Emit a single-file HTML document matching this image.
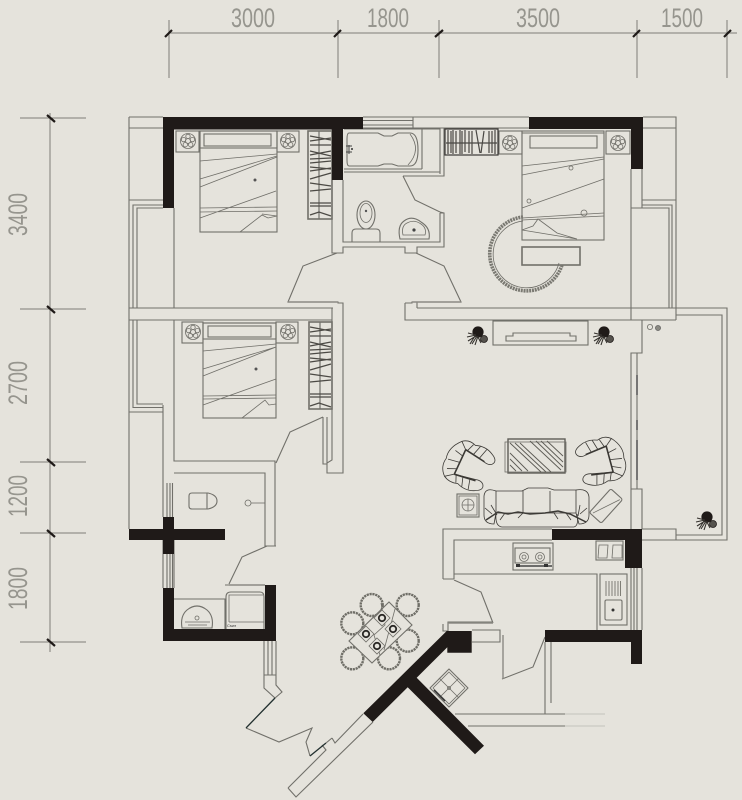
<!DOCTYPE html>
<html><head><meta charset="utf-8"><style>
html,body{margin:0;padding:0;background:#e5e3dc}
svg{display:block}
text{font-family:"Liberation Sans",sans-serif;fill:#96958e}
.l{fill:none;stroke:#71706a;stroke-width:1.1}
.t{fill:none;stroke:#6f6e68;stroke-width:.8}
.g{fill:none;stroke:#8b8a83;stroke-width:1.4}
.k{fill:#1f1a18;stroke:none}
.d{fill:none;stroke:#3c3a36;stroke-width:.8}
</style></head><body>
<svg width="742" height="800" viewBox="0 0 742 800" xmlns="http://www.w3.org/2000/svg">
<defs>
<g id="fl" class="t"><circle r="7.5"/><circle r="2.4"/><circle cx="0" cy="-4.6" r="2.2"/><circle cx="4.4" cy="-1.4" r="2.2"/><circle cx="2.7" cy="3.7" r="2.2"/><circle cx="-2.7" cy="3.7" r="2.2"/><circle cx="-4.4" cy="-1.4" r="2.2"/></g>
<g id="pl"><circle r="5.6" fill="#1f1a18"/><circle cx="6" cy="7" r="3.5" fill="#55524d" stroke="#1f1a18" stroke-width=".8"/><path d="M-2 3 L-10 1 M-2 3 L-11 5 M-2 4 L-10 9 M-1 4 L-6 12 M0 4 L-3 13 M-3 4 L-8 12 M0 5 L3 11" stroke="#33302c" stroke-width="1.1" fill="none"/></g>
<g id="wr"><path d="M1 5 L22 9 M1 10 L22 7 M1 14 L22 14 M1 20 L22 25 M1 24 L22 20 M1 28 L22 27 M1 32 L22 30 M1 36 L22 38 M1 40 L22 37 M1 48 L22 42 M1 52 L22 55 M1 60 L22 58 M1 72 L22 72 M1 75 L22 75 M1 84 L10 81 L22 85" stroke="#4c4a45" stroke-width="1.3" fill="none"/></g>
<g id="ch" class="d">
<path d="M-20 -19Q-30 -8 -27 3Q-29 13 -21 20L-13 14L-13 -13Z"/>
<path d="M-20 -19Q-14 -24 -6 -21Q4 -25 13 -20Q21 -16 17 -11Q14 -8 8 -10L-13 -13"/>
<path d="M-21 20Q-14 24 -6 21Q4 25 13 20Q21 16 17 11Q14 8 8 10L-13 14"/>
<path d="M-13 -13L-13 14M-13 -13L9 -10M-13 14L9 11" stroke-width="1.6" stroke="#3a3834"/>
<path d="M-8 -21L-11 -13M-1 -22L-4 -12M6 -22L3 -11M-8 21L-11 14M-1 22L-4 13M6 22L3 11M-22 -8L-13 -6M-25 3L-13 1M-22 12L-13 8"/>
</g>
<g id="hs" stroke="#5d5b55" stroke-width=".9"><path d="M510 443 L541 472 M515 443 L546 472 M520 443 L551 472 M510 453 L528 471 M510 459 L522 471 M510 465 L516 471 M530 441 L561 470 M536 441 L563 467 M541 441 L563 462 M547 441 L563 456"/></g>
</defs>
<rect width="742" height="800" fill="#e5e3dc"/>

<!-- dimensions -->
<g stroke="#7f7e77" stroke-width="1" fill="none">
<path d="M168 33H737M169 20V78M338 20V78M439 20V78M637 20V78M727 20V78"/>
<path d="M50 113V652M20 118H86M20 309H86M20 462H86M20 533H86M20 642H86"/>
</g>
<g stroke="#1f1a18" stroke-width="2.2">
<path d="M165 37L172 30M334 37L341 30M435 37L443 30M633 37L640 30M724 37L731 30"/>
<path d="M47 115L55 122M47 306L55 313M47 459L55 466M47 530L55 537M47 639L55 646"/>
</g>
<g font-size="27">
<text x="231" y="27" textLength="44" lengthAdjust="spacingAndGlyphs">3000</text>
<text x="367" y="27" textLength="42" lengthAdjust="spacingAndGlyphs">1800</text>
<text x="516" y="27" textLength="44" lengthAdjust="spacingAndGlyphs">3500</text>
<text x="661" y="27" textLength="42" lengthAdjust="spacingAndGlyphs">1500</text>
<text transform="translate(27,236) rotate(-90)" textLength="43" lengthAdjust="spacingAndGlyphs">3400</text>
<text transform="translate(27,405) rotate(-90)" textLength="44" lengthAdjust="spacingAndGlyphs">2700</text>
<text transform="translate(27,517) rotate(-90)" textLength="42" lengthAdjust="spacingAndGlyphs">1200</text>
<text transform="translate(27,610) rotate(-90)" textLength="43" lengthAdjust="spacingAndGlyphs">1800</text>
</g>

<!-- thin walls -->
<g class="l">
<path d="M129 117V529M129 117H163M129 128H163M129 200H174M133 308V205H163M137 308V208H163M174 208V308M129 308H333M129 320H332M133 320V407.5H163M137 320V404H163M129 412H163"/>
<path d="M174 320V461H275V546H265V473H174M163 405V517M163 540V588M174 540V588M167 483V517M170 483V517M172.5 483V517M167 554V588M170 554V588M172.5 554V588"/>
<path d="M332 129V253H343V247H405V253H417V247H444V213H440M343 180V242H440V213M332 308V460L327 463V473H343V303H338V302H288L303 266L337 253"/>
<path d="M323 417V464H327M327 417V463M323 417L290 432L276 463"/>
<path d="M363 117H529M363 120.5H413M363 125H413M363 128H529M413 117V129M422 129V169M344 129H440V174M444 128V176H403M344 169H422M344 172H440M403 176L415 200L440 212L444 213"/>
<path d="M631 169V320H642V353H631V529M642 169V208H631M643 117H676V320M643 128H676M642 200H676M642 205H672V308M642 208H669V308M405 303V320H631M405 303H412V302H461L444 266L416 253M417 308H727V540H642M676 315H722V535H676V540M676 320V315M642 320H676M637 353V489M631 489H642V529M642 529H676V535"/>
<path d="M417 302V308"/>
<path d="M265 546H276M267 546L242 557L229 584"/>
<path d="M174 599H225V629M225 585H229"/>
<path d="M264 641V688L275 698L282 692L276 685V641M268 641V675M272 641V675M264 675H276"/>
<path d="M246 728L279 742L312 728L306 742L310 756"/>
<path d="M288 788L326 750L322 745M288 788L296 797L373 722M332 738L335 743L363 714M326 743L332 738"/>
<path d="M443 579V529H552M454 579V540H552M443 579H454M454 580L481 592L493 623M454 574H597V630M443 624V631H448V622H493M448 622V631"/>
<path d="M631 568V630M634 568V630M637 568V630M642 568V630"/>
<path d="M472 630H500V642H472M545 637L533 667L502 679M545 642V714M551 642V703M455 714H565M468 726H565"/>
</g>
<path d="M565 714H605M565 726H605" stroke="#c4c3bc" stroke-width="1" fill="none"/>
<path class="g" d="M229 585H265M503 635V679M448 623H493M412 302H461M288 302H338"/>

<!-- bed 1 -->
<g class="l">
<rect x="200" y="131" width="77" height="101"/><rect x="200" y="131" width="77" height="17"/><rect x="204" y="134" width="67" height="12"/>
<rect x="176" y="131" width="23" height="21"/><rect x="277" y="131" width="22" height="21"/>
<rect x="308" y="131" width="24" height="88" stroke-width="1.6"/><path d="M319 131V219" stroke-width="1.2"/>
</g>
<use href="#fl" x="188" y="141"/><use href="#fl" x="288" y="141"/><use href="#wr" x="309" y="131"/>
<path class="t" d="M200 161L277 154M200 179L277 156M200 187L277 157M200 218L276 191M200 208L277 207M200 212L277 211M240 232L262 215L268 218L277 216L262 214"/>
<circle cx="255" cy="180" r="1.5" fill="#555"/>

<!-- bed 3 -->
<g class="l">
<rect x="203" y="323" width="73" height="95"/><rect x="203" y="323" width="73" height="16"/><rect x="208" y="326" width="63" height="11"/>
<rect x="182" y="322" width="21" height="21"/><rect x="276" y="322" width="22" height="21"/>
<rect x="309" y="322" width="23" height="87" stroke-width="1.6"/><path d="M320 322V409" stroke-width="1.2"/>
</g>
<use href="#fl" x="193" y="332"/><use href="#fl" x="288" y="332"/><use href="#wr" x="309" y="322"/>
<path class="t" d="M203 351L276 344M203 369L276 347M203 376L276 347M203 405L276 379M203 396L276 395M203 399L276 398M242 418L265 400L269 405L276 404"/>
<circle cx="256" cy="369" r="1.5" fill="#555"/>

<!-- master bed -->
<g class="l">
<rect x="522" y="131" width="82" height="109"/><rect x="530" y="136" width="67" height="12"/><path d="M522 133H604"/>
<rect x="499" y="131" width="23" height="23"/><rect x="606" y="131" width="24" height="23"/>
<rect x="522" y="247" width="58" height="18" stroke-width="1.6"/>
</g>
<rect x="445" y="129" width="53" height="26" fill="none" stroke="#3a3835" stroke-width="1.2"/>
<path d="M448 130V154M451 131V153M453 130V154M456 131V153M460 130V154M462 131V154M465 130V152M469 131V153M472 131V154M476 130L480 153M481 153L484 131M489 131V153M492 131V153M495 130V154M446 143H497" stroke="#4a4844" stroke-width="1.2" fill="none"/>
<use href="#fl" x="510" y="143"/><use href="#fl" x="618" y="143"/>
<path class="t" d="M522 166L604 157M522 175L604 159M522 208L604 179M522 218L604 213M522 220L604 216M522 230L577 239M522 230L533 226L538 219L557 233L577 239"/>
<circle cx="571" cy="168" r="2" class="t"/><circle cx="529" cy="201" r="2" class="t"/><circle cx="584" cy="213" r="3" class="t"/>
<path d="M523 217A37 37 0 1 0 562 265" fill="none" stroke="#7a7972" stroke-width="3.6" stroke-dasharray="2 .8"/>
<path d="M523 221A33.5 33.5 0 1 0 559 263" class="t"/>

<!-- bathroom fixtures -->
<path class="l" d="M349 133H378L384 136L392 136L398 133H410Q418 133 418 150Q418 166 410 166H398L392 164L384 164L378 166H349Q347 166 347 160V139Q347 133 349 133Z"/>
<path class="t" d="M410 134Q422 150 408 165"/>
<circle cx="352" cy="149" r="1" fill="#333"/><path d="M346 146H352M346 152H352M349 145V154" stroke="#444" fill="none"/>
<g class="l"><path d="M352 242V233Q352 229 356 229H376Q380 229 380 233V242"/><ellipse cx="366" cy="215" rx="9" ry="14"/><ellipse cx="366" cy="213" rx="6" ry="9.5" class="t"/></g>
<circle cx="366" cy="211" r="1.2" fill="#555"/>
<path class="l" d="M400 239Q397 226 404 221Q412 215 421 222Q431 228 429 239Z"/><path class="t" d="M403 235Q401 226 407 223Q414 219 421 224Q427 228 425 235Z"/><circle cx="414" cy="230" r="1.6" fill="#444"/>

<!-- bathroom 2 -->
<path class="l" d="M192 493H208Q217 495 217 501Q217 507 208 509H192Q189 509 189 506V496Q189 493 192 493ZM207 493V509"/>
<circle cx="248" cy="503" r="3" class="t"/><path class="t" d="M251 503H265"/>
<path class="l" d="M182 628Q180 616 187 610Q197 602 207 610Q214 616 212 628Z"/><path class="t" d="M185 622H210M188 625H207"/><circle cx="197" cy="618" r="2" class="t"/>
<path class="l" d="M226 629V597Q226 592 231 592H260Q264 592 264 597V629"/><path class="t" d="M229 622V595H263M229 622H264"/>
<text x="227" y="627" font-size="4" style="fill:#333">Cswr</text>

<!-- living -->
<use href="#pl" x="478" y="332"/><use href="#pl" x="604" y="332"/><use href="#pl" x="707" y="517"/>
<g class="l"><rect x="493" y="321" width="95" height="24"/><path d="M506 341H576V336H570V333H513V336H506Z"/></g>
<circle cx="650" cy="327" r="2.6" class="t"/><circle cx="658" cy="328" r="2.6" fill="#8a8982" stroke="#555" stroke-width=".6"/>
<path d="M637 375V395M637 420V430M637 440V480" stroke="#555" stroke-width="1.5" fill="none"/>
<rect x="508" y="439" width="57" height="34" fill="none" stroke="#5f5d57" stroke-width="1.4"/><rect x="505" y="442" width="61" height="30" class="t"/>
<use href="#hs"/>
<use href="#ch" transform="translate(472,467) rotate(25)"/>
<use href="#ch" transform="translate(597,462) scale(-1,1) rotate(15)"/>
<g class="d">
<path d="M496 491H522L528 488H548L554 490H576V513H496Z"/><path d="M523 491V513M550 491V513"/>
<path d="M496 491Q485 487 484 496L484 515Q484 524 494 524L496 513M576 490Q588 488 589 497L589 515Q589 524 579 524L576 513"/>
<path d="M496 514Q495 526 502 527H574Q579 526 577 514"/>
<path d="M486 520L498 512L508 514L518 512L530 514L545 513L558 511L570 514L586 522" stroke-width="1.5"/>
<path d="M491 505L497 515M492 514L485 508M580 505L578 516M580 514L587 508M505 513L500 520M523 513L518 518M554 513L558 519M566 513L571 520"/>
</g>
<rect x="457" y="494" width="22" height="23" class="l"/><rect x="459" y="496" width="18" height="19" class="t"/><circle cx="468" cy="505" r="6" class="t"/><path class="t" d="M462 505H474M468 499V511"/>
<g transform="translate(606,506) rotate(-48)" class="l"><rect x="-16" y="-8" width="32" height="16" rx="2"/><path class="t" d="M-14 -5L14 6"/></g>

<!-- kitchen -->
<g class="l"><rect x="513" y="543" width="40" height="27"/><rect x="515" y="548" width="35" height="15"/><circle cx="524" cy="557" r="4.5" class="t"/><circle cx="540" cy="557" r="4.5" class="t"/><circle cx="524" cy="557" r="2" class="t"/><circle cx="540" cy="557" r="2" class="t"/></g>
<path d="M516 566H552" stroke="#444" stroke-width="1.5"/>
<rect x="516" y="564" width="4" height="3" fill="#333"/><rect x="544" y="564" width="4" height="3" fill="#333"/>
<rect x="596" y="541" width="27" height="19" class="l"/><path class="t" d="M599 545H608L607 558H598ZM613 545H622L622 558H612Z"/>
<rect x="600" y="574" width="27" height="51" class="l"/>
<path d="M606 581V596M609 581V596M612 581V596M615 581V596M618 581V596M620.5 581V596" stroke="#66645e" stroke-width=".8"/>
<rect x="605" y="600" width="17" height="20" rx="1.5" class="l"/><circle cx="613" cy="610" r="1.5" fill="#333"/>

<!-- dining -->
<g fill="none" stroke="#6f6e67" stroke-width="2.4" stroke-dasharray="2.2 .7">
<circle cx="371.7" cy="605" r="11"/><circle cx="407.7" cy="605" r="11"/>
<circle cx="352.3" cy="623.3" r="11"/><circle cx="407.7" cy="640.7" r="11"/>
<circle cx="352.3" cy="658.3" r="11"/><circle cx="389" cy="658.3" r="11"/>
</g>
<path class="l" d="M389 602L412 625L372 663L349 641Z" style="fill:#e5e3dc"/>
<path class="t" d="M381 603L385 625L374 635L380 655M395 609L384 650"/>
<g class="t" style="fill:#e5e3dc"><path d="M382 610L390 618L382 626L374 618Z"/><path d="M366 626L374 634L366 642L358 634Z"/><path d="M393 621L401 629L393 637L385 629Z"/><path d="M377 638L385 646L377 654L369 646Z"/></g>
<g fill="none" stroke="#2a2825" stroke-width="1.8"><circle cx="382" cy="618" r="3.2"/><circle cx="366" cy="634" r="3.2"/><circle cx="393" cy="629" r="3.2"/><circle cx="377" cy="646" r="3.2"/></g>

<!-- shower -->
<path class="l" d="M449 669L468 688L449 707L430 688Z" stroke-linejoin="round"/>
<path class="t" d="M449 672L465 688L449 704L433 688ZM439 678L459 698M459 678L439 698"/>
<circle cx="449" cy="688" r="1.5" class="t"/><path d="M434 690L445 701" stroke="#333" stroke-width="1.5"/>

<!-- thick walls -->
<g class="k">
<polygon points="163,117 363,117 363,129 343,129 343,180 332,180 332,129.5 174,129.5 174,208 163,208"/>
<polygon points="529,117 643,117 643,169 631,169 631,129 529,129"/>
<rect x="129" y="529" width="96" height="11"/><rect x="163" y="517" width="11" height="37"/>
<polygon points="163,588 174,588 174,629 265,629 265,585 276,585 276,641 163,641"/>
<polygon points="552,529 642,529 642,568 625,568 625,540 552,540"/>
<polygon points="545,630 642,630 642,664 631,664 631,642 545,642"/>
<polygon points="363.3,713.3 446.7,631 471.7,631 471.7,652.7 447.3,652.7 447.3,647.3 416.7,677.7 484,745.7 475,754.3 407.7,687.3 372.7,722"/>
</g>
<path d="M275 698L246 728M310 756L326 743" stroke="#22302f" stroke-width="1.3" fill="none"/>
</svg>
</body></html>
